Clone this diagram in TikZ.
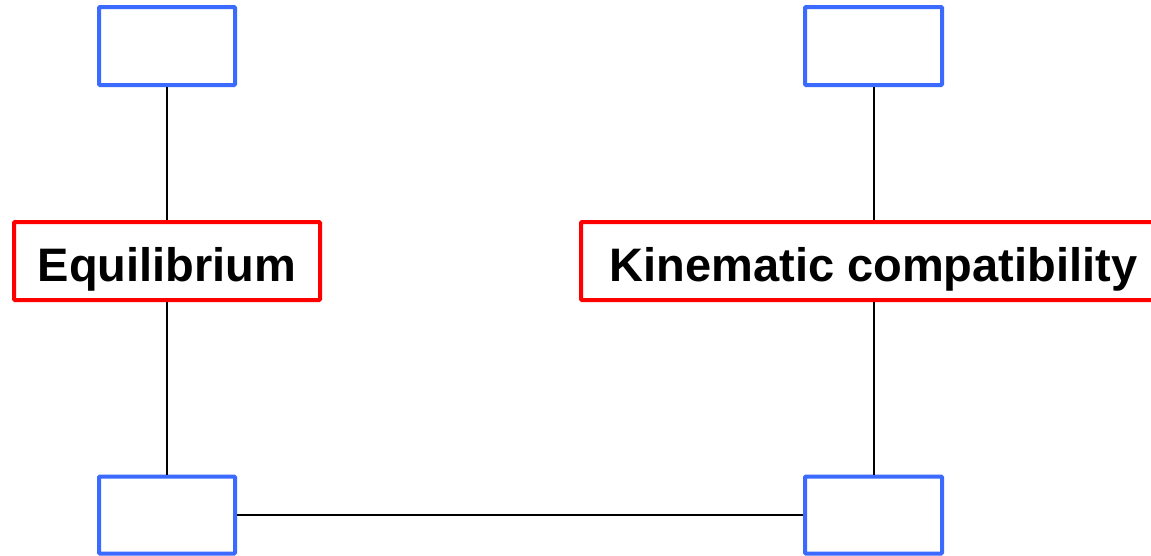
\documentclass[tikz,border=0pt]{standalone}
\usepackage{fontspec}
\setmainfont{Liberation Sans}
\definecolor{boxblue}{RGB}{58,106,255}
\definecolor{boxred}{RGB}{255,0,0}
\begin{document}
\begin{tikzpicture}[x=1pt,y=-1pt,
  emptybox/.style={draw=boxblue,line width=4pt,fill=white,rounded corners=1pt,
    minimum width=136pt,minimum height=78pt,inner sep=0pt},
  lawbox/.style={draw=boxred,line width=4pt,fill=white,rounded corners=1pt,
    minimum height=78pt,inner sep=0pt,text height=40pt,text depth=0pt,
    font=\fontsize{47}{56}\selectfont\bfseries},
  link/.style={draw=black,line width=2pt}]
  \clip (0,0) rectangle (1151,555);
  \useasboundingbox (0,0) rectangle (1151,555);
  % left column
  \node[emptybox] (tl) at (167,46) {};
  \node[lawbox,minimum width=306pt] (eq) at (167,261) {Equilibrium};
  \node[emptybox,minimum height=77pt] (bl) at (167,515) {};
  % right column
  \node[emptybox,minimum width=137pt] (tr) at (873.5,46) {};
  \node[lawbox,minimum width=585pt] (kc) at (873.5,261) {Kinematic compatibility};
  \node[emptybox,minimum width=137pt,minimum height=77pt] (br) at (873.5,515) {};
  % connectors
  \draw[link] (tl) -- (eq);
  \draw[link] (eq) -- (bl);
  \draw[link] (tr) -- (kc);
  \draw[link] (kc) -- (br);
  \draw[link] (bl) -- (br);
\end{tikzpicture}
\end{document}
